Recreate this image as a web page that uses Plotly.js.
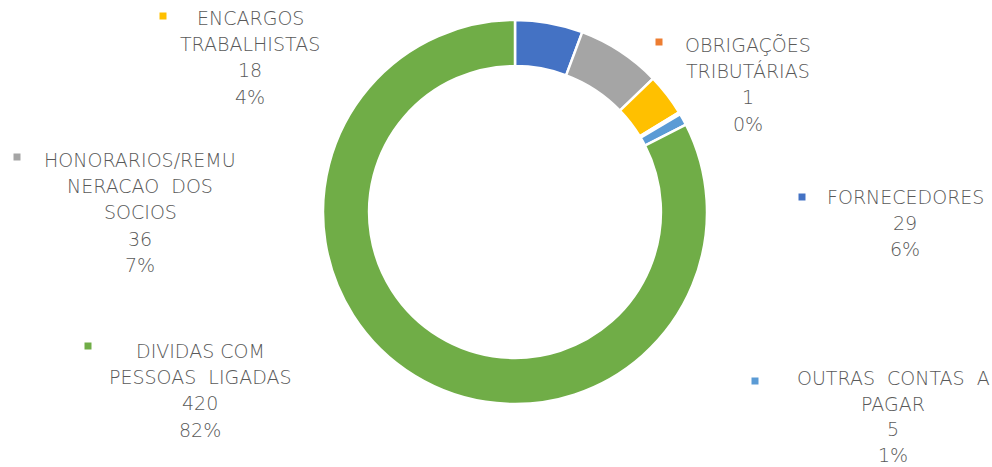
<!DOCTYPE html>
<html><head><meta charset="utf-8">
<script src="https://cdn.plot.ly/plotly-3.0.1.min.js"></script>
<style>body{margin:0;background:#fff}#c{width:992px;height:467px}</style>
</head><body><div id="c"></div>
<script>
const categories = ["FORNECEDORES","HONORARIOS/REMUNERACAO DOS SOCIOS","ENCARGOS TRABALHISTAS","OBRIGAÇÕES TRIBUTÁRIAS","OUTRAS CONTAS A PAGAR","DIVIDAS COM PESSOAS LIGADAS"];
const values = [29, 36, 18, 1, 5, 420];
const percentLabels = ["6%","7%","4%","0%","1%","82%"];
const labelLines = [
  ["FORNECEDORES"],
  ["HONORARIOS/REMU","NERACAO  DOS","SOCIOS"],
  ["ENCARGOS","TRABALHISTAS"],
  ["OBRIGAÇÕES","TRIBUTÁRIAS"],
  ["OUTRAS  CONTAS  A","PAGAR"],
  ["DIVIDAS COM","PESSOAS  LIGADAS"]
];
const colors = ["#4472C4","#A5A5A5","#FFC000","#ED7D31","#5B9BD5","#70AD47"];

const W = 992, H = 467;
// label block placement (pixels): text center x, first line y, marker x, marker y
const place = [
  {tx:905, ty:197, mx:802, my:197},
  {tx:140, ty:160, mx:17,  my:157},
  {tx:250, ty:18,  mx:163, my:16},
  {tx:748, ty:45,  mx:659, my:42},
  {tx:893, ty:378, mx:755, my:381},
  {tx:200, ty:351, mx:88,  my:346}
];
const annotations = [], shapes = [];
const font = {family:"DejaVu Sans", size:19, color:"#595959", weight:200};
values.forEach((v,i)=>{
  const lines = labelLines[i].concat([String(v), percentLabels[i]]);
  const p = place[i];
  const step = i === 4 ? 25.5 : 26.2;
  lines.forEach((t,k)=>{
    annotations.push({text:t, xref:"paper", yref:"paper", x:p.tx/W, y:1-(p.ty+k*step)/H,
      xanchor:"center", yanchor:"middle", showarrow:false, font:font});
  });
  shapes.push({type:"rect", xref:"paper", yref:"paper", xsizemode:"pixel", ysizemode:"pixel",
    xanchor:p.mx/W, yanchor:1-p.my/H, x0:-3.5, x1:3.5, y0:-3.5, y1:3.5,
    fillcolor:colors[i], line:{width:0}});
});

const cx = 515, cy = 212, r = 192;
const data = [{
  type:"pie", labels:categories, values:values, hole:0.76, sort:false,
  direction:"clockwise", rotation:0, textinfo:"none", hoverinfo:"label+value+percent",
  marker:{colors:colors, line:{color:"#ffffff", width:2.5}},
  domain:{x:[(cx-r)/W,(cx+r)/W], y:[1-(cy+r)/H, 1-(cy-r)/H]}
}];
const layout = {width:W, height:H, margin:{l:0,r:0,t:0,b:0}, showlegend:false,
  paper_bgcolor:"#fff", annotations:annotations, shapes:shapes};
Plotly.newPlot("c", data, layout, {displayModeBar:false, staticPlot:true});
</script></body></html>
